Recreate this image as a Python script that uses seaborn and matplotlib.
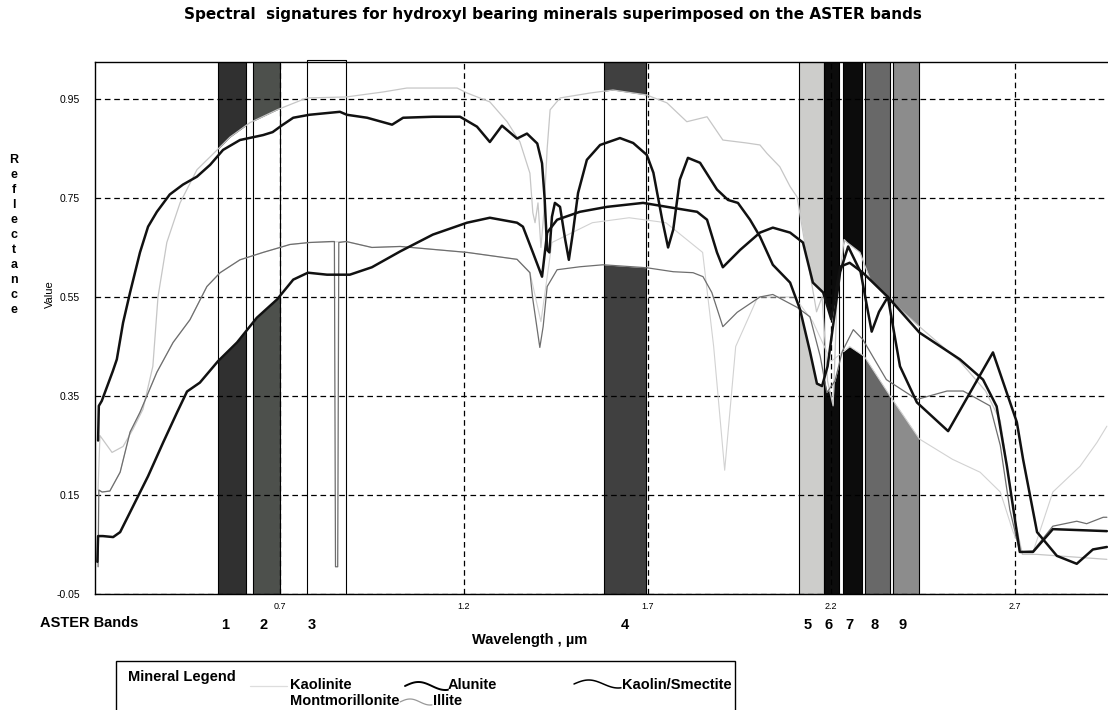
import numpy as np
import pandas as pd
import matplotlib
matplotlib.use("Agg")
import matplotlib.pyplot as plt
import seaborn as sns
from matplotlib.lines import Line2D
from matplotlib.patches import Rectangle

# ---------------- data ----------------
alunite_wl = [0.205, 0.207, 0.215, 0.23, 0.245, 0.256, 0.273, 0.292, 0.319, 0.341, 0.365, 0.40, 0.436,
              0.474, 0.51, 0.545, 0.591, 0.654, 0.68, 0.706, 0.736, 0.78, 0.863, 0.882, 0.937, 1.005,
              1.035, 1.116, 1.19, 1.236, 1.271, 1.304, 1.345, 1.372, 1.40, 1.413, 1.42, 1.427, 1.433,
              1.44, 1.448, 1.462, 1.476, 1.486, 1.497, 1.511, 1.535, 1.571, 1.625, 1.661, 1.698, 1.716,
              1.74, 1.756, 1.77, 1.788, 1.81, 1.843, 1.889, 1.919, 1.946, 1.979, 2.006, 2.041, 2.088,
              2.115, 2.142, 2.161, 2.175, 2.19, 2.21, 2.224, 2.246, 2.28, 2.31, 2.33, 2.354, 2.387,
              2.433, 2.518, 2.64, 2.705, 2.722, 2.76, 2.814, 2.868, 2.912, 2.95]
alunite_r = [0.26, 0.33, 0.34, 0.37, 0.40, 0.424, 0.498, 0.559, 0.64, 0.692, 0.722, 0.757, 0.777,
             0.793, 0.817, 0.847, 0.867, 0.877, 0.883, 0.897, 0.912, 0.918, 0.924, 0.918, 0.912, 0.898,
             0.912, 0.914, 0.914, 0.894, 0.863, 0.896, 0.87, 0.88, 0.86, 0.82, 0.75, 0.645, 0.64,
             0.712, 0.74, 0.732, 0.666, 0.625, 0.68, 0.76, 0.827, 0.857, 0.871, 0.861, 0.837, 0.801,
             0.706, 0.65, 0.686, 0.787, 0.831, 0.821, 0.767, 0.746, 0.74, 0.706, 0.672, 0.615, 0.579,
             0.525, 0.44, 0.375, 0.37, 0.41, 0.52, 0.60, 0.652, 0.60, 0.48, 0.52, 0.55, 0.41,
             0.337, 0.279, 0.438, 0.297, 0.222, 0.075, 0.027, 0.011, 0.04, 0.045]

kaolsmec_wl = [0.203, 0.205, 0.218, 0.246, 0.265, 0.30, 0.341, 0.382, 0.42, 0.447, 0.482, 0.531, 0.583,
               0.637, 0.692, 0.736, 0.776, 0.828, 0.89, 0.95, 1.027, 1.116, 1.209, 1.271, 1.345, 1.361,
               1.388, 1.413, 1.427, 1.454, 1.516, 1.59, 1.688, 1.753, 1.835, 1.862, 1.889, 1.905, 1.952,
               2.006, 2.041, 2.088, 2.123, 2.15, 2.178, 2.2, 2.224, 2.25, 2.286, 2.354, 2.44, 2.55,
               2.613, 2.65, 2.678, 2.713, 2.749, 2.803, 2.95]
kaolsmec_r = [0.015, 0.067, 0.067, 0.065, 0.075, 0.127, 0.188, 0.256, 0.317, 0.359, 0.377, 0.42, 0.458,
              0.508, 0.545, 0.585, 0.599, 0.595, 0.595, 0.61, 0.642, 0.676, 0.70, 0.71, 0.70, 0.692,
              0.64, 0.591, 0.68, 0.706, 0.722, 0.732, 0.74, 0.732, 0.722, 0.706, 0.64, 0.61, 0.645,
              0.68, 0.69, 0.68, 0.66, 0.579, 0.559, 0.505, 0.611, 0.619, 0.599, 0.55, 0.478, 0.424,
              0.383, 0.329, 0.208, 0.035, 0.035, 0.081, 0.077]

illite_wl = [0.205, 0.207, 0.216, 0.237, 0.265, 0.292, 0.319, 0.365, 0.409, 0.455, 0.501, 0.537, 0.591,
             0.654, 0.70, 0.727, 0.78, 0.84, 0.848, 0.851, 0.857, 0.860, 0.88, 0.95, 1.027, 1.209,
             1.345, 1.38, 1.388, 1.407, 1.416, 1.427, 1.454, 1.516, 1.579, 1.698, 1.77, 1.824, 1.851,
             1.875, 1.905, 1.944, 2.006, 2.041, 2.107, 2.142, 2.17, 2.188, 2.21, 2.23, 2.26, 2.286,
             2.35, 2.433, 2.515, 2.559, 2.632, 2.66, 2.686, 2.713, 2.749, 2.803, 2.868, 2.895, 2.94, 2.95]
illite_r = [0.005, 0.16, 0.156, 0.158, 0.196, 0.277, 0.317, 0.398, 0.458, 0.504, 0.571, 0.599, 0.625,
            0.64, 0.65, 0.656, 0.66, 0.662, 0.662, 0.005, 0.005, 0.66, 0.662, 0.65, 0.652, 0.64,
            0.626, 0.599, 0.545, 0.448, 0.49, 0.571, 0.605, 0.611, 0.615, 0.609, 0.601, 0.599, 0.591,
            0.559, 0.49, 0.519, 0.55, 0.555, 0.529, 0.51, 0.43, 0.357, 0.38, 0.44, 0.484, 0.464,
            0.383, 0.343, 0.36, 0.36, 0.33, 0.25, 0.12, 0.035, 0.037, 0.087, 0.097, 0.092, 0.105, 0.105]

kaolinite_wl = [0.205, 0.21, 0.243, 0.273, 0.30, 0.327, 0.354, 0.368, 0.392, 0.428, 0.474, 0.529, 0.564,
                0.618, 0.692, 0.773, 0.88, 0.98, 1.045, 1.182, 1.209, 1.271, 1.318, 1.353, 1.38, 1.388,
                1.394, 1.402, 1.41, 1.418, 1.427, 1.435, 1.462, 1.544, 1.606, 1.698, 1.753, 1.807,
                1.862, 1.905, 1.97, 2.006, 2.025, 2.06, 2.088, 2.107, 2.13, 2.16, 2.175, 2.19, 2.205,
                2.216, 2.235, 2.243, 2.278, 2.306, 2.35, 2.44, 2.55, 2.62, 2.66, 2.70, 2.72, 2.76, 2.95]
kaolinite_r = [0.16, 0.27, 0.236, 0.248, 0.283, 0.323, 0.41, 0.55, 0.66, 0.74, 0.807, 0.847, 0.873,
               0.902, 0.928, 0.952, 0.954, 0.964, 0.972, 0.972, 0.962, 0.944, 0.904, 0.863, 0.80, 0.72,
               0.70, 0.74, 0.65, 0.72, 0.85, 0.928, 0.952, 0.962, 0.968, 0.958, 0.942, 0.904,
               0.914, 0.867, 0.861, 0.857, 0.84, 0.813, 0.773, 0.752, 0.65, 0.52, 0.55, 0.38, 0.33,
               0.55, 0.666, 0.66, 0.64, 0.585, 0.55, 0.49, 0.42, 0.36, 0.30, 0.10, 0.03, 0.03, 0.02]

montmor_wl = [0.207, 0.216, 0.237, 0.265, 0.292, 0.319, 0.365, 0.409, 0.455, 0.501, 0.537, 0.591,
              0.654, 0.70, 0.727, 0.78, 0.88, 0.95, 1.027, 1.209, 1.345, 1.38, 1.41, 1.44, 1.55, 1.65,
              1.75, 1.85, 1.88, 1.91, 1.94, 2.00, 2.10, 2.15, 2.20, 2.25, 2.29, 2.36, 2.44, 2.53, 2.605,
              2.66, 2.695, 2.72, 2.749, 2.803, 2.877, 2.923, 2.95]
montmor_r = [0.16, 0.156, 0.158, 0.196, 0.277, 0.317, 0.398, 0.458, 0.504, 0.571, 0.599, 0.625,
             0.64, 0.65, 0.656, 0.66, 0.662, 0.65, 0.652, 0.64, 0.626, 0.60, 0.50, 0.66, 0.70, 0.71,
             0.70, 0.64, 0.45, 0.20, 0.45, 0.55, 0.55, 0.50, 0.42, 0.45, 0.43, 0.35, 0.263, 0.222, 0.196,
             0.156, 0.075, 0.035, 0.035, 0.156, 0.208, 0.256, 0.289]

band_labels = ["1", "2", "3", "4", "5", "6", "7", "8", "9"]
band_start = [0.531, 0.627, 0.773, 1.582, 2.112, 2.180, 2.232, 2.292, 2.368]
band_end = [0.607, 0.700, 0.880, 1.696, 2.180, 2.221, 2.284, 2.360, 2.439]

xtick_vals = [0.7, 1.2, 1.7, 2.2, 2.7]
ytick_vals = [0.95, 0.75, 0.55, 0.35, 0.15, -0.05]

# ---------------- style / layout ----------------
band_colors = ["#303030", "#4d504c", "#ffffff", "#404040", "#cdcdcb", "#0c0c0c", "#0c0c0c",
               "#686868", "#8c8c8c"]
band_label_px = [225, 264, 312, 625, 808, 829, 849, 875, 903]

sns.set_style("white")
plt.rcParams["font.family"] = ["Liberation Sans", "DejaVu Sans"]
plt.rcParams["text.color"] = "black"
plt.rcParams["axes.labelcolor"] = "black"
plt.rcParams["xtick.color"] = "black"
plt.rcParams["ytick.color"] = "black"

W, H = 1108, 710
fig = plt.figure(figsize=(W / 100, H / 100), dpi=100)


def fx(px):
    return px / W


def fy(py):
    return 1 - py / H


ax = fig.add_axes([fx(95), fy(594), fx(1111) - fx(95), fy(62) - fy(594)])
ax.set_xlim(0.1966, 2.9612)
ax.set_ylim(-0.048, 1.0246)

# bands
for s, e, c in zip(band_start, band_end, band_colors):
    ax.axvspan(s, e, color=c, zorder=1, lw=0)
    ax.axvline(s, color="black", lw=0.8, zorder=2.6)
    ax.axvline(e, color="black", lw=0.8, zorder=2.6)
# band 3 outline sticks out slightly above the frame
ax.plot([band_start[2], band_start[2], band_end[2], band_end[2]], [1.0246, 1.029, 1.029, 1.0246],
        color="black", lw=0.8, clip_on=False, zorder=2.6)

series = {
    "Montmorillonite": (montmor_wl, montmor_r),
    "Kaolinite": (kaolinite_wl, kaolinite_r),
    "Illite": (illite_wl, illite_r),
    "Kaolin/Smectite": (kaolsmec_wl, kaolsmec_r),
    "Alunite": (alunite_wl, alunite_r),
}
# white area spanning the envelope of all spectra (covers the bands)
grid = np.linspace(0.21, 2.95, 4000)
stack = np.vstack([np.interp(grid, w, r) for w, r in series.values()])
ax.fill_between(grid, stack.max(axis=0), stack.min(axis=0), color="white", lw=0, zorder=2)

styles = {
    "Montmorillonite": dict(color="#d2d2d2", lw=0.8),
    "Kaolinite": dict(color="#c6c6c6", lw=0.9),
    "Illite": dict(color="#6e6e6e", lw=0.9),
    "Kaolin/Smectite": dict(color="#111111", lw=1.8),
    "Alunite": dict(color="#111111", lw=1.8),
}
for name, (w, r) in series.items():
    df = pd.DataFrame({"wl": w, "r": r})
    sns.lineplot(data=df, x="wl", y="r", sort=False, estimator=None, ax=ax,
                 color=styles[name]["color"], linewidth=styles[name]["lw"], zorder=4,
                 legend=False)

# grid / ticks
ax.set_axisbelow(False)
ax.set_xticks(xtick_vals)
ax.set_xticklabels([f"{v:.1f}" for v in xtick_vals], fontsize=6.5)
ax.set_yticks(ytick_vals)
ax.set_yticklabels([f"{v:.2f}" for v in ytick_vals], fontsize=7.5)
ax.grid(True, color="black", lw=0.9, linestyle=(0, (4.5, 3)))
ax.tick_params(axis="x", direction="out", length=3, width=0.8, pad=3, colors="black")
ax.tick_params(axis="y", direction="out", length=8, width=0.8, pad=3, colors="black")
ax.set_xlabel("")
ax.set_ylabel("")
for sp in ax.spines.values():
    sp.set_color("black")
    sp.set_linewidth(1.0)

# texts
fig.text(fx(553), fy(15), "Spectral  signatures for hydroxyl bearing minerals superimposed on the ASTER bands",
         ha="center", va="center", fontsize=11, fontweight="bold", family="DejaVu Sans")
fig.text(fx(14), fy(235), "\n".join("Reflectance"), ha="center", va="center", fontsize=9,
         fontweight="bold", linespacing=1.34)
fig.text(fx(50), fy(294), "Value", ha="center", va="center", rotation=90, fontsize=8)
fig.text(fx(138), fy(623), "ASTER Bands", ha="right", va="center", fontsize=10.5, fontweight="bold")
for lab, px in zip(band_labels, band_label_px):
    fig.text(fx(px), fy(625), lab, ha="center", va="center", fontsize=10.5, fontweight="bold")
fig.text(fx(530), fy(640), "Wavelength , µm", ha="center", va="center", fontsize=10.5, fontweight="bold")

# legend box
fig.add_artist(Rectangle((fx(116), fy(715)), fx(735) - fx(116), fy(661) - fy(715),
                         transform=fig.transFigure, fill=False, ec="black", lw=1.0))
lf = dict(va="center", fontsize=10.5, fontweight="bold")
fig.text(fx(128), fy(677), "Mineral Legend", ha="left", **lf)
fig.text(fx(290), fy(685), "Kaolinite", ha="left", **lf)
fig.text(fx(448), fy(685), "Alunite", ha="left", **lf)
fig.text(fx(732), fy(685), "Kaolin/Smectite", ha="right", **lf)
fig.text(fx(290), fy(701), "Montmorillonite", ha="left", **lf)
fig.text(fx(433), fy(701), "Illite", ha="left", **lf)


def wave(x0, x1, y0, amp, **kw):
    t = np.linspace(0, 1, 40)
    xs = x0 + (x1 - x0) * t
    ys = y0 + amp * np.sin(np.pi * t * 1.6)
    fig.add_artist(Line2D([fx(v) for v in xs], [fy(v) for v in ys], transform=fig.transFigure, **kw))


wave(405, 448, 686, -4, color="black", lw=1.4)
wave(574, 621, 684, -4, color="black", lw=1.1)
wave(400, 432, 702, -3, color="#999999", lw=0.9)
wave(250, 287, 686, 0, color="#dddddd", lw=0.9)

fig.savefig("out.png", dpi=100)
